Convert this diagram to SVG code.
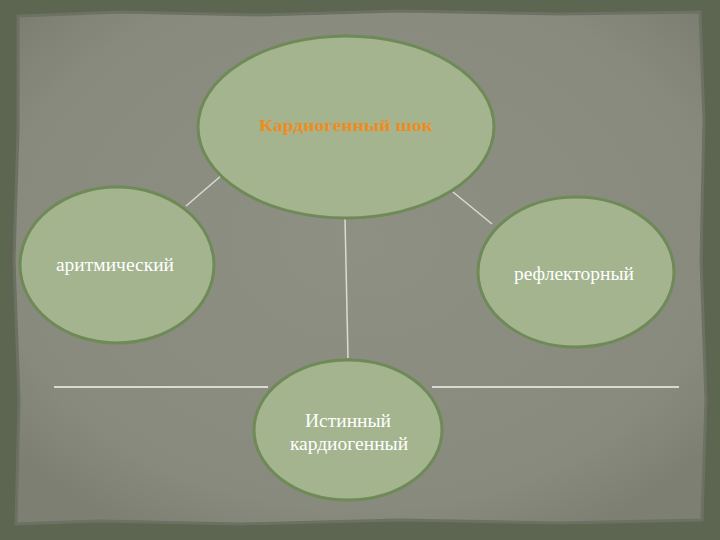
<svg xmlns="http://www.w3.org/2000/svg" width="720" height="540" viewBox="0 0 720 540">
<defs>
<style>
.node{fill:#a3b48e;stroke:#6e8a57;stroke-width:3}
.lbl{font-family:"Liberation Serif","DejaVu Serif",serif;font-size:19.5px;fill:#ffffff;text-anchor:middle}
.con{stroke:#d8dcd2;stroke-width:1.5;fill:none}
.hl{stroke:#f4f4ee;stroke-width:1.5}
</style>
<radialGradient id="pg" cx="50%" cy="45%" r="65%">
<stop offset="0" stop-color="#8f9084"/>
<stop offset="0.8" stop-color="#888a7d"/>
<stop offset="1" stop-color="#7c7f71"/>
</radialGradient>
</defs>
<rect width="720" height="540" fill="#5c6651"/>
<path d="M18,16 L120,12 L260,15 L400,11 L560,14 L700,12 L704,120 L701,260 L706,400 L702,520 L560,523 L400,520 L240,524 L100,521 L16,524 L19,400 L14,260 L18,130 Z" fill="url(#pg)" stroke="#6c7163" stroke-width="3"/>
<g id="connectors">
<line class="con" x1="222" y1="175" x2="186" y2="206"/>
<line class="con" x1="453" y1="192" x2="492" y2="224"/>
<line class="con" x1="345" y1="218" x2="348" y2="358"/>
<line class="hl" x1="54" y1="387" x2="268" y2="387"/>
<line class="hl" x1="432" y1="387" x2="679" y2="387"/>
</g>
<g id="node-top">
<ellipse class="node" cx="346" cy="127" rx="148" ry="91"/>
<text x="346" y="131" font-family="Liberation Serif,DejaVu Serif,serif" font-size="16" font-weight="bold" fill="#f08c1e" text-anchor="middle" textLength="174" lengthAdjust="spacingAndGlyphs">Кардиогенный шок</text>
</g>
<g id="node-left">
<ellipse class="node" cx="117" cy="265" rx="97" ry="78"/>
<text class="lbl" x="115" y="271">аритмический</text>
</g>
<g id="node-right">
<ellipse class="node" cx="576" cy="272" rx="98" ry="75"/>
<text class="lbl" x="574" y="280">рефлекторный</text>
</g>
<g id="node-bottom">
<ellipse class="node" cx="348" cy="430" rx="94" ry="70"/>
<text class="lbl" x="348" y="427">Истинный</text>
<text class="lbl" x="349" y="450">кардиогенный</text>
</g>
</svg>
